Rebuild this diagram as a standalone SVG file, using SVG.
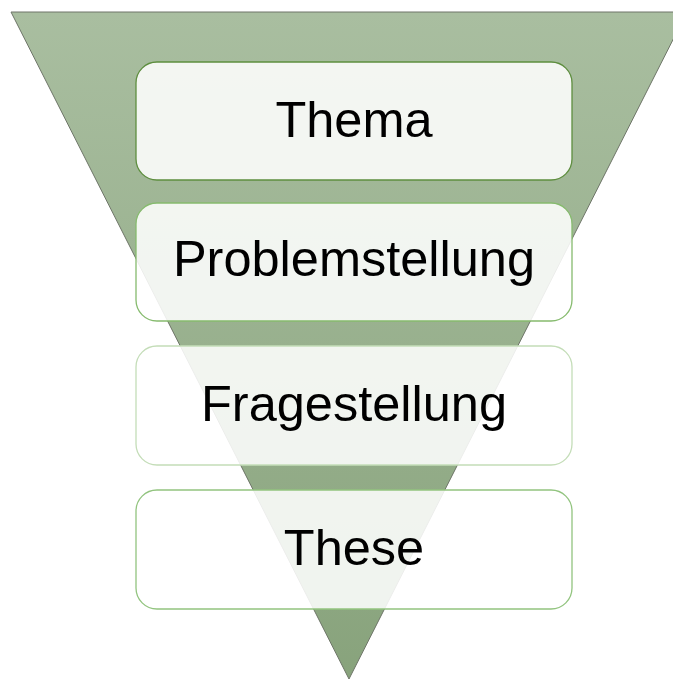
<svg xmlns="http://www.w3.org/2000/svg" width="673" height="679" viewBox="0 0 673 679">
  <defs>
    <linearGradient id="funnelFill" x1="0" y1="0" x2="0" y2="1">
      <stop offset="0" stop-color="#a9bea0"/>
      <stop offset="1" stop-color="#88a37c"/>
    </linearGradient>
  </defs>
  <style>
    .box { fill: #ffffff; fill-opacity: 0.87; stroke-width: 1.3; }
    .label { font-family: "Liberation Sans", Arial, sans-serif; font-size: 50.5px; fill: #000000; text-anchor: middle; }
  </style>
  <rect width="673" height="679" fill="#ffffff"/>
  <!-- inverted funnel -->
  <g id="funnel">
    <polygon points="11,12 687,12 349,679" fill="url(#funnelFill)" stroke="#6e7568" stroke-width="1"/>
  </g>
  <g id="connectors"/>
  <g id="thema">
    <rect class="box" x="136" y="62" width="436" height="118" rx="21" stroke="#5e8e3f"/>
    <text class="label" x="354" y="137">Thema</text>
  </g>
  <g id="problemstellung">
    <rect class="box" x="136" y="203" width="436" height="118" rx="21" stroke="#86bb6e"/>
    <text class="label" x="354" y="276">Problemstellung</text>
  </g>
  <g id="fragestellung">
    <rect class="box" x="136" y="346" width="436" height="119" rx="21" stroke="#c4ddb8"/>
    <text class="label" x="354" y="421">Fragestellung</text>
  </g>
  <g id="these">
    <rect class="box" x="136" y="490" width="436" height="119" rx="21" stroke="#92c47f"/>
    <text class="label" x="354" y="565">These</text>
  </g>
</svg>
